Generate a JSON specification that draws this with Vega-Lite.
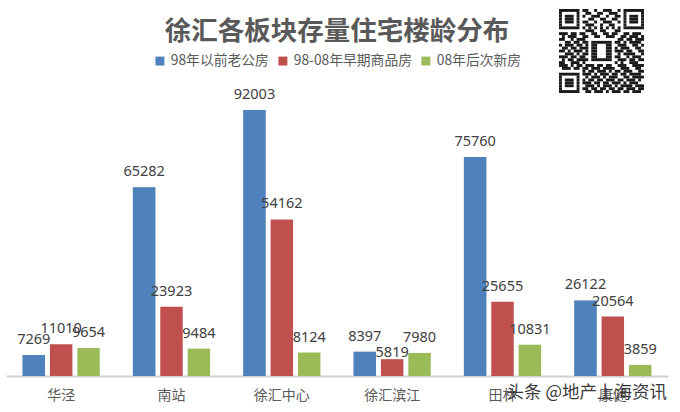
{
  "$schema": "https://vega.github.io/schema/vega-lite/v6.json",
  "description": "Xuhui housing stock by building age, grouped bars",
  "width": 662,
  "height": 326,
  "autosize": "none",
  "padding": {"left": 6, "top": 50, "right": 12, "bottom": 36},
  "background": "white",
  "title": {
    "text": "徐汇各板块存量住宅楼龄分布",
    "font": "Noto Sans CJK SC",
    "fontSize": 26.5,
    "fontWeight": "bold",
    "color": "#595959",
    "anchor": "middle",
    "offset": 4,
    "dy": 40
  },
  "config": {"view": {"stroke": null}},
  "datasets": {
    "stock": [
      {"area": "华泾", "age": "98年以前老公房", "units": 7269},
      {"area": "华泾", "age": "98-08年早期商品房", "units": 11010},
      {"area": "华泾", "age": "08年后次新房", "units": 9654},
      {"area": "南站", "age": "98年以前老公房", "units": 65282},
      {"area": "南站", "age": "98-08年早期商品房", "units": 23923},
      {"area": "南站", "age": "08年后次新房", "units": 9484},
      {"area": "徐汇中心", "age": "98年以前老公房", "units": 92003},
      {"area": "徐汇中心", "age": "98-08年早期商品房", "units": 54162},
      {"area": "徐汇中心", "age": "08年后次新房", "units": 8124},
      {"area": "徐汇滨江", "age": "98年以前老公房", "units": 8397},
      {"area": "徐汇滨江", "age": "98-08年早期商品房", "units": 5819},
      {"area": "徐汇滨江", "age": "08年后次新房", "units": 7980},
      {"area": "田林", "age": "98年以前老公房", "units": 75760},
      {"area": "田林", "age": "98-08年早期商品房", "units": 25655},
      {"area": "田林", "age": "08年后次新房", "units": 10831},
      {"area": "康健", "age": "98年以前老公房", "units": 26122},
      {"area": "康健", "age": "98-08年早期商品房", "units": 20564},
      {"area": "康健", "age": "08年后次新房", "units": 3859}
    ],
    "qr": [
      {"c0":0,"c1":7,"r":0},{"c0":8,"c1":10,"r":0},{"c0":12,"c1":13,"r":0},{"c0":15,"c1":18,"r":0},{"c0":20,"c1":21,"r":0},{"c0":22,"c1":29,"r":0},
      {"c0":0,"c1":1,"r":1},{"c0":6,"c1":7,"r":1},{"c0":9,"c1":11,"r":1},{"c0":13,"c1":15,"r":1},{"c0":17,"c1":20,"r":1},{"c0":22,"c1":23,"r":1},{"c0":28,"c1":29,"r":1},
      {"c0":0,"c1":1,"r":2},{"c0":2,"c1":5,"r":2},{"c0":6,"c1":7,"r":2},{"c0":8,"c1":9,"r":2},{"c0":11,"c1":14,"r":2},{"c0":16,"c1":17,"r":2},{"c0":19,"c1":21,"r":2},{"c0":22,"c1":23,"r":2},{"c0":24,"c1":27,"r":2},{"c0":28,"c1":29,"r":2},
      {"c0":0,"c1":1,"r":3},{"c0":2,"c1":5,"r":3},{"c0":6,"c1":7,"r":3},{"c0":10,"c1":12,"r":3},{"c0":14,"c1":16,"r":3},{"c0":18,"c1":20,"r":3},{"c0":22,"c1":23,"r":3},{"c0":24,"c1":27,"r":3},{"c0":28,"c1":29,"r":3},
      {"c0":0,"c1":1,"r":4},{"c0":2,"c1":5,"r":4},{"c0":6,"c1":7,"r":4},{"c0":8,"c1":10,"r":4},{"c0":12,"c1":13,"r":4},{"c0":15,"c1":18,"r":4},{"c0":20,"c1":21,"r":4},{"c0":22,"c1":23,"r":4},{"c0":24,"c1":27,"r":4},{"c0":28,"c1":29,"r":4},
      {"c0":0,"c1":1,"r":5},{"c0":6,"c1":7,"r":5},{"c0":9,"c1":12,"r":5},{"c0":14,"c1":15,"r":5},{"c0":17,"c1":19,"r":5},{"c0":22,"c1":23,"r":5},{"c0":28,"c1":29,"r":5},
      {"c0":0,"c1":7,"r":6},{"c0":8,"c1":9,"r":6},{"c0":10,"c1":11,"r":6},{"c0":12,"c1":13,"r":6},{"c0":14,"c1":15,"r":6},{"c0":16,"c1":17,"r":6},{"c0":18,"c1":19,"r":6},{"c0":20,"c1":21,"r":6},{"c0":22,"c1":29,"r":6},
      {"c0":9,"c1":12,"r":7},{"c0":14,"c1":16,"r":7},{"c0":19,"c1":21,"r":7},
      {"c0":0,"c1":3,"r":8},{"c0":4,"c1":6,"r":8},{"c0":7,"c1":9,"r":8},{"c0":11,"c1":13,"r":8},{"c0":15,"c1":17,"r":8},{"c0":18,"c1":20,"r":8},{"c0":22,"c1":24,"r":8},{"c0":25,"c1":28,"r":8},
      {"c0":1,"c1":2,"r":9},{"c0":3,"c1":6,"r":9},{"c0":8,"c1":10,"r":9},{"c0":12,"c1":14,"r":9},{"c0":16,"c1":19,"r":9},{"c0":21,"c1":23,"r":9},{"c0":24,"c1":27,"r":9},{"c0":28,"c1":29,"r":9},
      {"c0":0,"c1":2,"r":10},{"c0":4,"c1":5,"r":10},{"c0":6,"c1":9,"r":10},{"c0":20,"c1":22,"r":10},{"c0":23,"c1":25,"r":10},{"c0":26,"c1":29,"r":10},
      {"c0":2,"c1":4,"r":11},{"c0":5,"c1":7,"r":11},{"c0":8,"c1":10,"r":11},{"c0":11,"c1":18,"r":11},{"c0":19,"c1":21,"r":11},{"c0":22,"c1":23,"r":11},{"c0":24,"c1":28,"r":11},
      {"c0":0,"c1":1,"r":12},{"c0":2,"c1":5,"r":12},{"c0":6,"c1":8,"r":12},{"c0":9,"c1":10,"r":12},{"c0":11,"c1":13,"r":12},{"c0":16,"c1":18,"r":12},{"c0":20,"c1":23,"r":12},{"c0":25,"c1":27,"r":12},{"c0":28,"c1":29,"r":12},
      {"c0":1,"c1":3,"r":13},{"c0":4,"c1":6,"r":13},{"c0":7,"c1":10,"r":13},{"c0":11,"c1":13,"r":13},{"c0":16,"c1":18,"r":13},{"c0":19,"c1":20,"r":13},{"c0":21,"c1":24,"r":13},{"c0":26,"c1":28,"r":13},
      {"c0":0,"c1":2,"r":14},{"c0":3,"c1":4,"r":14},{"c0":5,"c1":8,"r":14},{"c0":9,"c1":10,"r":14},{"c0":11,"c1":13,"r":14},{"c0":16,"c1":18,"r":14},{"c0":19,"c1":22,"r":14},{"c0":23,"c1":25,"r":14},{"c0":27,"c1":29,"r":14},
      {"c0":2,"c1":5,"r":15},{"c0":6,"c1":7,"r":15},{"c0":8,"c1":10,"r":15},{"c0":11,"c1":13,"r":15},{"c0":16,"c1":18,"r":15},{"c0":20,"c1":21,"r":15},{"c0":22,"c1":26,"r":15},{"c0":28,"c1":29,"r":15},
      {"c0":0,"c1":3,"r":16},{"c0":4,"c1":6,"r":16},{"c0":7,"c1":9,"r":16},{"c0":11,"c1":13,"r":16},{"c0":16,"c1":18,"r":16},{"c0":19,"c1":21,"r":16},{"c0":23,"c1":24,"r":16},{"c0":25,"c1":28,"r":16},
      {"c0":1,"c1":2,"r":17},{"c0":3,"c1":5,"r":17},{"c0":6,"c1":10,"r":17},{"c0":11,"c1":18,"r":17},{"c0":20,"c1":23,"r":17},{"c0":24,"c1":26,"r":17},{"c0":27,"c1":29,"r":17},
      {"c0":0,"c1":2,"r":18},{"c0":4,"c1":7,"r":18},{"c0":8,"c1":9,"r":18},{"c0":19,"c1":20,"r":18},{"c0":21,"c1":22,"r":18},{"c0":24,"c1":27,"r":18},
      {"c0":0,"c1":3,"r":19},{"c0":4,"c1":5,"r":19},{"c0":6,"c1":8,"r":19},{"c0":9,"c1":12,"r":19},{"c0":13,"c1":15,"r":19},{"c0":16,"c1":18,"r":19},{"c0":20,"c1":23,"r":19},{"c0":25,"c1":29,"r":19},
      {"c0":1,"c1":4,"r":20},{"c0":5,"c1":7,"r":20},{"c0":8,"c1":10,"r":20},{"c0":11,"c1":14,"r":20},{"c0":15,"c1":19,"r":20},{"c0":21,"c1":24,"r":20},{"c0":26,"c1":28,"r":20},
      {"c0":8,"c1":9,"r":21},{"c0":10,"c1":12,"r":21},{"c0":13,"c1":16,"r":21},{"c0":17,"c1":18,"r":21},{"c0":19,"c1":21,"r":21},{"c0":22,"c1":25,"r":21},{"c0":27,"c1":29,"r":21},
      {"c0":0,"c1":7,"r":22},{"c0":8,"c1":11,"r":22},{"c0":12,"c1":13,"r":22},{"c0":14,"c1":17,"r":22},{"c0":18,"c1":20,"r":22},{"c0":21,"c1":23,"r":22},{"c0":24,"c1":28,"r":22},
      {"c0":0,"c1":1,"r":23},{"c0":6,"c1":7,"r":23},{"c0":9,"c1":10,"r":23},{"c0":11,"c1":14,"r":23},{"c0":15,"c1":16,"r":23},{"c0":17,"c1":20,"r":23},{"c0":22,"c1":24,"r":23},{"c0":25,"c1":29,"r":23},
      {"c0":0,"c1":1,"r":24},{"c0":2,"c1":5,"r":24},{"c0":6,"c1":7,"r":24},{"c0":8,"c1":9,"r":24},{"c0":10,"c1":12,"r":24},{"c0":13,"c1":15,"r":24},{"c0":16,"c1":19,"r":24},{"c0":20,"c1":22,"r":24},{"c0":23,"c1":26,"r":24},{"c0":27,"c1":28,"r":24},
      {"c0":0,"c1":1,"r":25},{"c0":2,"c1":5,"r":25},{"c0":6,"c1":7,"r":25},{"c0":8,"c1":11,"r":25},{"c0":12,"c1":14,"r":25},{"c0":15,"c1":17,"r":25},{"c0":18,"c1":21,"r":25},{"c0":22,"c1":23,"r":25},{"c0":24,"c1":27,"r":25},
      {"c0":0,"c1":1,"r":26},{"c0":2,"c1":5,"r":26},{"c0":6,"c1":7,"r":26},{"c0":9,"c1":12,"r":26},{"c0":13,"c1":14,"r":26},{"c0":15,"c1":18,"r":26},{"c0":19,"c1":20,"r":26},{"c0":21,"c1":25,"r":26},{"c0":26,"c1":29,"r":26},
      {"c0":0,"c1":1,"r":27},{"c0":6,"c1":7,"r":27},{"c0":8,"c1":10,"r":27},{"c0":11,"c1":13,"r":27},{"c0":14,"c1":16,"r":27},{"c0":17,"c1":19,"r":27},{"c0":20,"c1":22,"r":27},{"c0":23,"c1":26,"r":27},{"c0":27,"c1":29,"r":27},
      {"c0":0,"c1":7,"r":28},{"c0":9,"c1":11,"r":28},{"c0":12,"c1":15,"r":28},{"c0":16,"c1":17,"r":28},{"c0":18,"c1":21,"r":28},{"c0":22,"c1":24,"r":28},{"c0":25,"c1":28,"r":28}
    ],
    "watermark": [{"area": "康健", "units": 0, "text": "头条 @地产上海资讯"}]
  },
  "layer": [
    {
      "data": {"name": "stock"},
      "encoding": {
        "x": {
          "field": "area",
          "type": "nominal",
          "sort": null,
          "scale": {"domain": ["华泾", "南站", "徐汇中心", "徐汇滨江", "田林", "康健"], "paddingInner": 0.3, "paddingOuter": 0.15},
          "axis": {
            "title": null,
            "labelAngle": 0,
            "labelFont": "Noto Sans CJK SC",
            "labelFontSize": 14,
            "labelColor": "#595959",
            "labelPadding": 12,
            "ticks": false,
            "domainColor": "#d0d0d0",
            "domainWidth": 2,
            "grid": false
          }
        },
        "xOffset": {
          "field": "age",
          "type": "nominal",
          "sort": null,
          "scale": {"domain": ["98年以前老公房", "98-08年早期商品房", "08年后次新房"], "paddingInner": 0.18}
        },
        "y": {
          "field": "units",
          "type": "quantitative",
          "scale": {"domain": [0, 112760], "nice": false},
          "axis": null
        }
      },
      "layer": [
        {
          "transform": [{"filter": "datum.age === '98年以前老公房'"}],
          "mark": {"type": "bar", "color": "#c9c9c9", "xOffset": 2}
        },
        {
          "mark": {"type": "bar"},
          "encoding": {
            "color": {
              "field": "age",
              "type": "nominal",
              "sort": null,
              "scale": {
                "domain": ["98年以前老公房", "98-08年早期商品房", "08年后次新房"],
                "range": ["#4f81bd", "#c0504d", "#9bbb59"]
              },
              "legend": {
                "title": null,
                "orient": "none",
                "legendX": 147,
                "legendY": 4,
                "direction": "horizontal",
                "columns": 3,
                "columnPadding": 7,
                "symbolType": "square",
                "symbolSize": 80,
                "symbolStrokeWidth": 0,
                "labelFont": "Noto Sans CJK SC",
                "labelFontSize": 13.8,
                "labelColor": "#595959",
                "labelOffset": 4
              }
            }
          }
        },
        {
          "transform": [{"filter": "datum.units !== 5819"}],
          "mark": {"type": "text", "font": "Noto Sans", "fontSize": 14.5, "color": "#404040", "baseline": "middle", "dy": -15},
          "encoding": {"text": {"field": "units", "type": "quantitative", "format": "d"}}
        },
        {
          "transform": [{"filter": "datum.units === 5819"}],
          "mark": {"type": "text", "font": "Noto Sans", "fontSize": 14.5, "color": "#404040", "baseline": "middle", "dy": -6},
          "encoding": {"text": {"field": "units", "type": "quantitative", "format": "d"}}
        }
      ]
    },
    {
      "data": {"name": "qr"},
      "mark": {"type": "rect", "color": "#1a1a1a"},
      "encoding": {
        "x": {"field": "c0", "type": "quantitative", "scale": {"domain": [0, 29], "range": [553, 638], "nice": false, "zero": false}, "axis": null},
        "x2": {"field": "c1"},
        "y": {"field": "r", "type": "ordinal", "scale": {"range": [-41, 43], "paddingInner": 0, "paddingOuter": 0}, "axis": null}
      }
    },
    {
      "data": {"name": "watermark"},
      "mark": {"type": "text", "font": "Noto Sans CJK SC", "fontSize": 17.5, "color": "#3a3a3a", "baseline": "middle", "dx": -26, "dy": 17},
      "encoding": {
        "x": {"field": "area", "type": "nominal", "scale": {"domain": ["华泾", "南站", "徐汇中心", "徐汇滨江", "田林", "康健"], "paddingInner": 0.3, "paddingOuter": 0.15}, "axis": null},
        "y": {"field": "units", "type": "quantitative", "scale": {"domain": [0, 112760], "nice": false}, "axis": null},
        "text": {"field": "text", "type": "nominal"}
      }
    }
  ],
  "resolve": {"scale": {"x": "independent", "y": "independent"}}
}
